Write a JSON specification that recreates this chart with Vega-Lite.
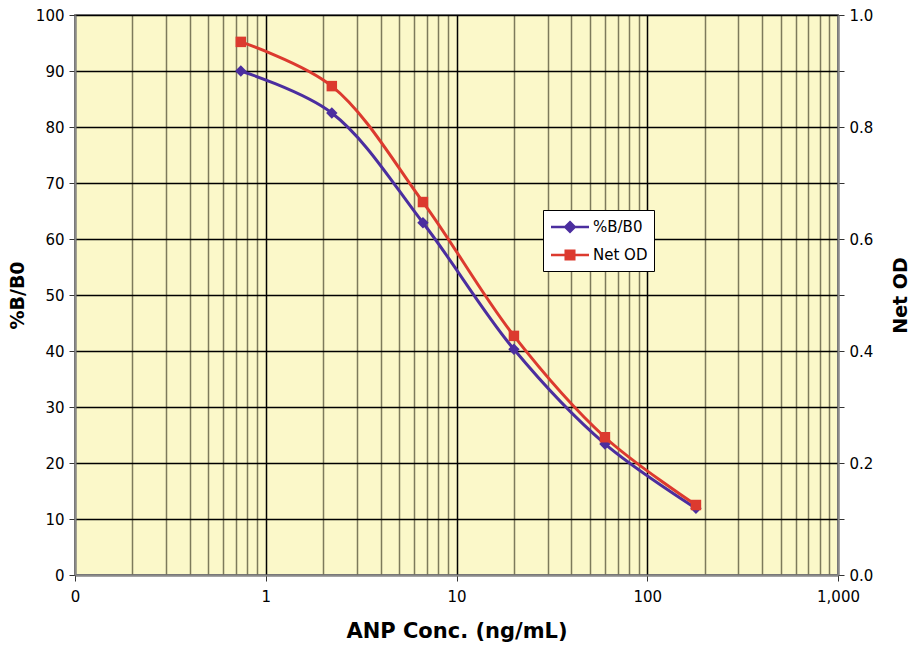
{
  "$schema": "https://vega.github.io/schema/vega-lite/v6.json",
  "autosize": "none",
  "width": 763,
  "height": 560,
  "padding": {"left": 75, "top": 15, "right": 81, "bottom": 71},
  "background": "white",
  "config": {
    "view": {"fill": "#FBF8C9", "stroke": "#8a8a8a", "strokeWidth": 2},
    "font": "DejaVu Sans",
    "axis": {
      "labelFont": "DejaVu Sans",
      "titleFont": "DejaVu Sans",
      "labelFontSize": 15,
      "titleFontSize": 19,
      "titleFontWeight": "bold",
      "labelColor": "black",
      "titleColor": "black",
      "tickColor": "#333",
      "domainColor": "#8a8a8a",
      "domainWidth": 2
    }
  },
  "data": {
    "values": [
      {"conc": 0.74, "series": "%B/B0", "value": 90.0},
      {"conc": 2.22, "series": "%B/B0", "value": 82.5},
      {"conc": 6.67, "series": "%B/B0", "value": 62.9},
      {"conc": 20, "series": "%B/B0", "value": 40.3},
      {"conc": 60, "series": "%B/B0", "value": 23.4},
      {"conc": 180, "series": "%B/B0", "value": 11.9},
      {"conc": 0.74, "series": "Net OD", "value": 0.952},
      {"conc": 2.22, "series": "Net OD", "value": 0.873},
      {"conc": 6.67, "series": "Net OD", "value": 0.666},
      {"conc": 20, "series": "Net OD", "value": 0.427},
      {"conc": 60, "series": "Net OD", "value": 0.246},
      {"conc": 180, "series": "Net OD", "value": 0.125}
    ]
  },
  "encoding": {
    "x": {
      "field": "conc",
      "type": "quantitative",
      "scale": {"type": "log", "domain": [0.1, 1000], "nice": false},
      "axis": {
        "title": "ANP Conc. (ng/mL)",
        "titleFontSize": 21,
        "titlePadding": 16,
        "labelPadding": 8,
        "values": [0.1,0.2,0.3,0.4,0.5,0.6,0.7,0.8,0.9,1,2,3,4,5,6,7,8,9,10,20,30,40,50,60,70,80,90,100,200,300,400,500,600,700,800,900,1000],
        "labelExpr": "abs(log(datum.value)/LN10 - round(log(datum.value)/LN10)) < 1e-6 ? (datum.value < 1 ? '0' : format(datum.value, ',')) : ''",
        "grid": true,
        "gridColor": {"condition": {"test": "abs(log(datum.value)/LN10 - round(log(datum.value)/LN10)) < 1e-6", "value": "#000000"}, "value": "#7d7a5c"},
        "gridWidth": 1.5,
        "tickSize": {"condition": {"test": "abs(log(datum.value)/LN10 - round(log(datum.value)/LN10)) < 1e-6", "value": 6}, "value": 0},
        "labelOverlap": false,
        "labelBound": false,
        "labelFlush": false
      }
    },
    "color": {
      "field": "series",
      "type": "nominal",
      "scale": {"domain": ["%B/B0", "Net OD"], "range": ["#4B2E9F", "#DC3A2F"]},
      "legend": {
        "title": null,
        "orient": "none",
        "legendX": 468,
        "legendY": 195,
        "fillColor": "white",
        "strokeColor": "black",
        "padding": 6,
        "symbolOffset": 10,
        "labelOffset": 12,
        "labelFont": "DejaVu Sans",
        "labelFontSize": 15,
        "labelColor": "black",
        "rowPadding": 7,
        "symbolSize": 361,
        "symbolStrokeWidth": 2.5,
        "encode": {
          "symbols": {
            "update": {
              "shape": {"signal": "datum.value == '%B/B0' ? 'M-2,0H2M0,-0.5L0.5,0L0,0.5L-0.5,0Z' : 'M-2,0H2M-0.45,-0.45H0.45V0.45H-0.45Z'"},
              "fill": {"signal": "datum.value == '%B/B0' ? '#4B2E9F' : '#DC3A2F'"},
              "stroke": {"signal": "datum.value == '%B/B0' ? '#4B2E9F' : '#DC3A2F'"},
              "strokeWidth": {"value": 2.5},
              "opacity": {"value": 1}
            }
          }
        }
      }
    }
  },
  "layer": [
    {
      "transform": [{"filter": "datum.series == '%B/B0'"}],
      "encoding": {
        "y": {
          "field": "value",
          "type": "quantitative",
          "scale": {"domain": [0, 100], "nice": false},
          "axis": {
            "title": "%B/B0",
            "orient": "left",
            "values": [0,10,20,30,40,50,60,70,80,90,100],
            "grid": true,
            "gridColor": "#000000",
            "gridWidth": 1.3,
            "tickSize": 6,
            "labelPadding": 5,
            "titlePadding": 8
          }
        }
      },
      "layer": [
        {"mark": {"type": "line", "interpolate": "catmull-rom", "strokeWidth": 3}},
        {"mark": {"type": "point", "shape": "diamond", "filled": true, "size": 130, "opacity": 1}}
      ]
    },
    {
      "transform": [{"filter": "datum.series == 'Net OD'"}],
      "encoding": {
        "y": {
          "field": "value",
          "type": "quantitative",
          "scale": {"domain": [0, 1], "nice": false},
          "axis": {
            "title": "Net OD",
            "titleAngle": 270,
            "orient": "right",
            "values": [0,0.1,0.2,0.3,0.4,0.5,0.6,0.7,0.8,0.9,1],
            "labelExpr": "round(datum.value*10) % 2 == 0 ? format(datum.value, '.1f') : ''",
            "grid": false,
            "tickSize": 6,
            "labelPadding": 5,
            "titlePadding": 38
          }
        }
      },
      "layer": [
        {"mark": {"type": "line", "interpolate": "catmull-rom", "strokeWidth": 3}},
        {"mark": {"type": "square", "filled": true, "size": 110, "opacity": 1}}
      ]
    }
  ],
  "resolve": {"scale": {"y": "independent"}}
}
